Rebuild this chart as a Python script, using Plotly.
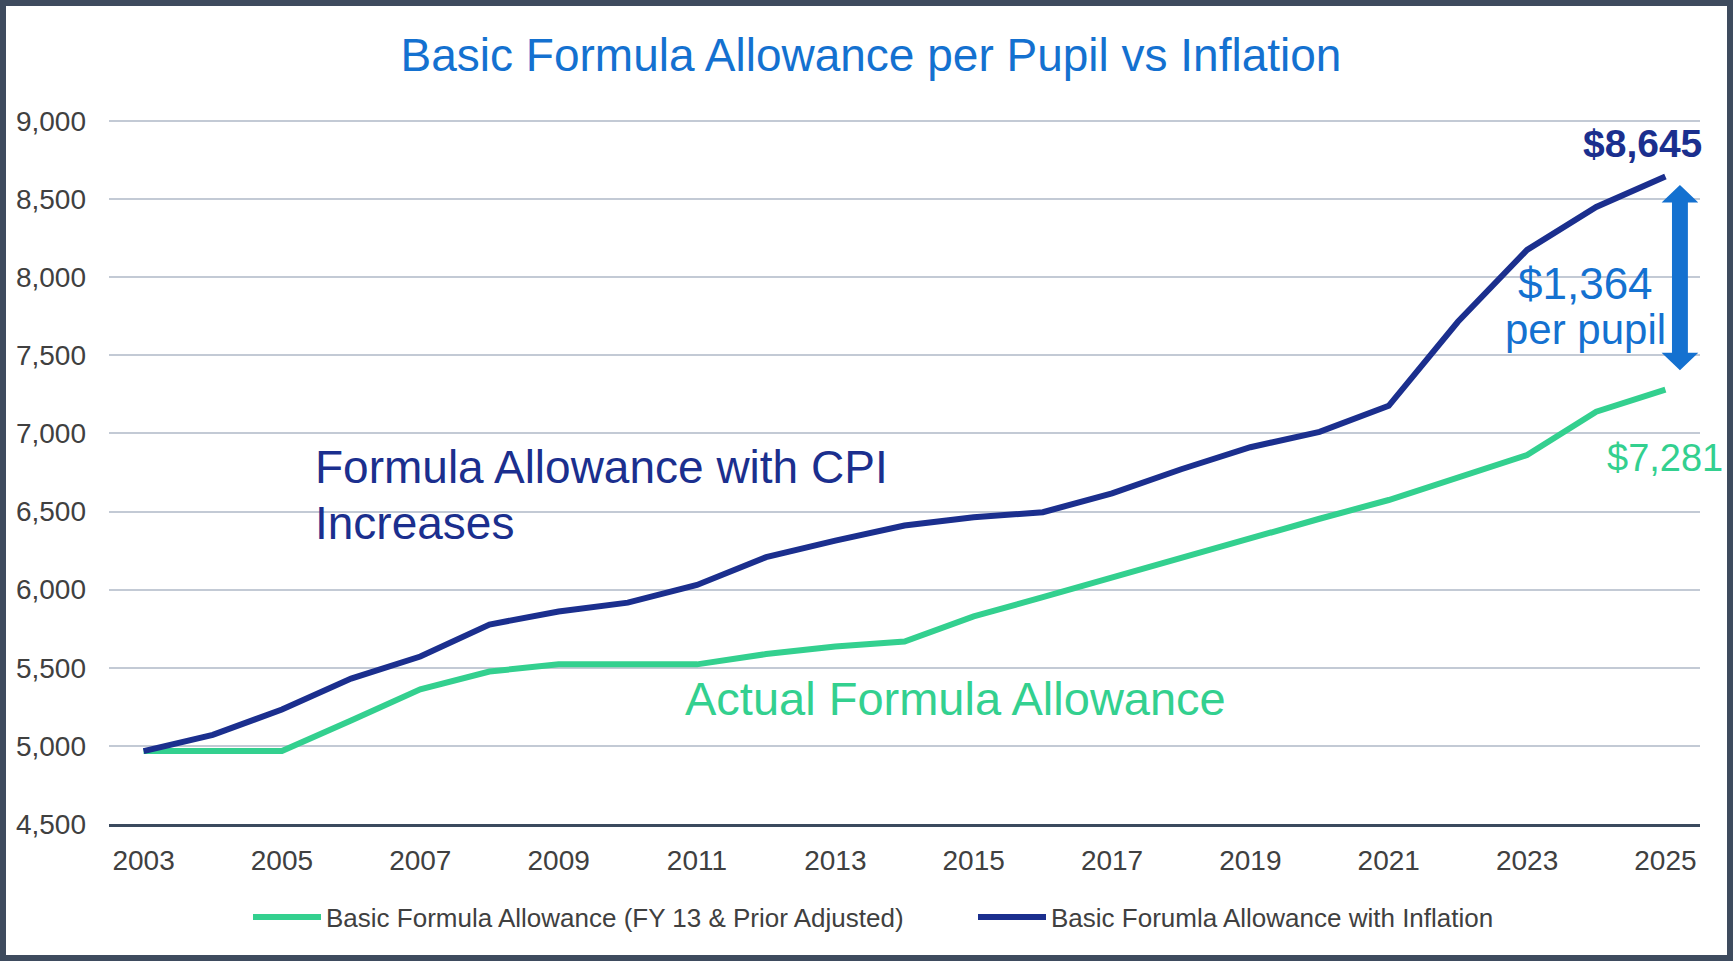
import plotly.graph_objects as go

# ---- data ----
years = list(range(2003, 2026))
actual_allowance = [4967, 4967, 4967, 5162, 5362, 5476, 5522, 5522, 5522, 5588, 5636, 5668,
                    5829, 5952, 6079, 6207, 6334, 6454, 6574, 6722, 6862, 7139, 7281]
inflation_allowance = [4967, 5071, 5233, 5431, 5572, 5777, 5860, 5917, 6030, 6208, 6314, 6411,
                       6463, 6496, 6616, 6771, 6912, 7010, 7177, 7715, 8175, 8450, 8645]
series_names = ["Basic Formula Allowance (FY 13 & Prior Adjusted)",
                "Basic Forumla Allowance with Inflation"]
x_tick_vals = list(range(2003, 2026, 2))
x_tick_text = [str(v) for v in x_tick_vals]
y_tick_vals = [4500, 5000, 5500, 6000, 6500, 7000, 7500, 8000, 8500, 9000]

GREEN = "#33D08F"
NAVY = "#1B2F8E"
BLUE = "#1471D0"
TICK = "#404040"
FONT = "Liberation Sans, Arial, sans-serif"

W, H = 1733, 961
L, R, T, B = 109, 33, 119, 137
PW, PH = W - L - R, H - T - B


def px_x(p):
    return (p - L) / PW


def px_y(p):
    return (H - B - p) / PH


fig = go.Figure()
fig.add_trace(go.Scatter(x=years, y=actual_allowance, mode="lines", name=series_names[0],
                         line=dict(color=GREEN, width=6)))
fig.add_trace(go.Scatter(x=years, y=inflation_allowance, mode="lines", name=series_names[1],
                         line=dict(color=NAVY, width=6)))

# double-headed arrow between end values
ax = 2025.21
hw_shaft, hw_head = 0.115, 0.265
y_top, y_bot, head = 8590, 7405, 112
path = (f"M {ax-hw_shaft},{y_top-head} L {ax-hw_head},{y_top-head} L {ax},{y_top} "
        f"L {ax+hw_head},{y_top-head} L {ax+hw_shaft},{y_top-head} L {ax+hw_shaft},{y_bot+head} "
        f"L {ax+hw_head},{y_bot+head} L {ax},{y_bot} L {ax-hw_head},{y_bot+head} "
        f"L {ax-hw_shaft},{y_bot+head} Z")
fig.add_shape(type="path", path=path, xref="x", yref="y", fillcolor=BLUE,
              line=dict(width=0), layer="above")

# outer frame
fig.add_shape(type="rect", xref="paper", yref="paper",
              x0=px_x(3), x1=px_x(W - 3), y0=px_y(H - 3), y1=px_y(3),
              line=dict(color="#3E4B5E", width=6), fillcolor="rgba(0,0,0,0)", layer="above")

ann = [
    dict(x=2024.67, y=8853, text="<b>$8,645</b>", font=dict(color=NAVY, size=39, family=FONT)),
    dict(x=2023.84, y=7963, text="$1,364", font=dict(color=BLUE, size=44, family=FONT)),
    dict(x=2023.84, y=7668, text="per pupil", font=dict(color=BLUE, size=42, family=FONT)),
    dict(x=2025.0, y=6846, text="$7,281", font=dict(color=GREEN, size=38, family=FONT)),
    dict(x=2014.73, y=5305, text="Actual Formula Allowance", font=dict(color=GREEN, size=47, family=FONT)),
    dict(x=2005.45, y=6786, text="Formula Allowance with CPI", xanchor="left",
         font=dict(color=NAVY, size=46, family=FONT)),
    dict(x=2005.45, y=6427, text="Increases", xanchor="left",
         font=dict(color=NAVY, size=46, family=FONT)),
]
for a in ann:
    a.setdefault("xanchor", "center")
    fig.add_annotation(xref="x", yref="y", showarrow=False, yanchor="middle", **a)

fig.update_layout(
    width=W, height=H,
    margin=dict(l=L, r=R, t=T, b=B),
    paper_bgcolor="white", plot_bgcolor="white",
    title=dict(text="Basic Formula Allowance per Pupil vs Inflation", x=871 / W, xanchor="center",
               y=1 - 55 / H, yanchor="middle", font=dict(color=BLUE, size=46, family=FONT)),
    showlegend=True,
    legend=dict(orientation="h", xref="container", x=248 / W, xanchor="left",
                yref="container", y=1 - 917 / H, yanchor="middle",
                font=dict(size=26, color=TICK, family=FONT), itemwidth=68,
                entrywidth=642, bgcolor="rgba(0,0,0,0)"),
    xaxis=dict(range=[2002.5, 2025.5], tickvals=x_tick_vals, ticktext=x_tick_text,
               showgrid=False, zeroline=False, showline=True, linecolor="#3B4A5E", linewidth=3,
               ticks="", tickfont=dict(size=28, color=TICK, family=FONT), ticklabelstandoff=9),
    yaxis=dict(range=[4500, 9013], tickvals=y_tick_vals, tickformat=",d",
               showgrid=True, gridcolor="#C3CAD5", gridwidth=2, zeroline=False, showline=False,
               ticks="", tickfont=dict(size=28, color=TICK, family=FONT), ticklabelstandoff=22),
)

fig.write_html("out.html", config={"displayModeBar": False},
               post_script="document.body.style.margin='0';")
